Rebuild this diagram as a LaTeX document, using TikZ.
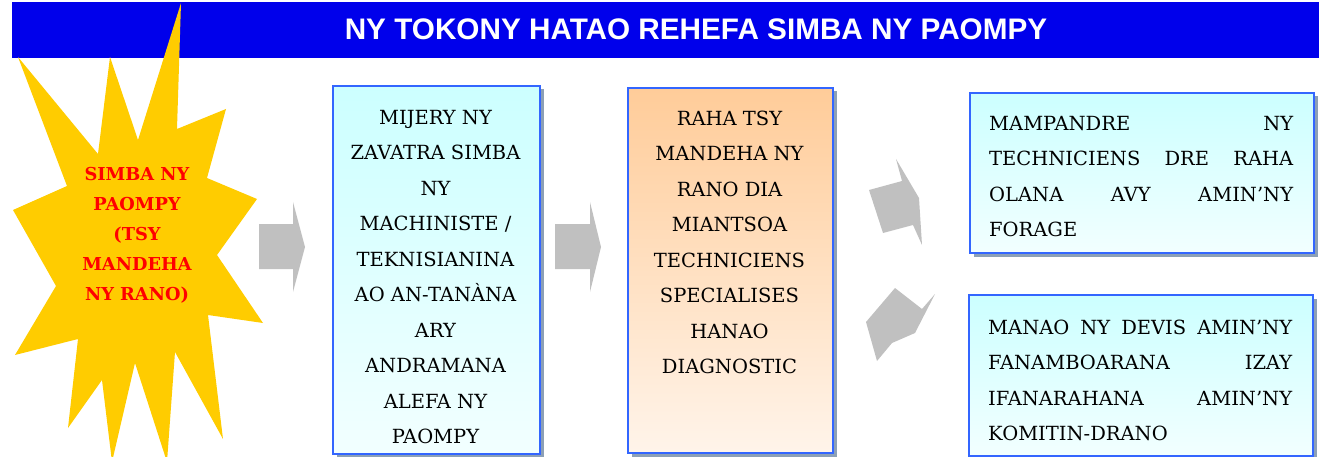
\documentclass[tikz,border=0pt]{standalone}
\usepackage{fontspec}
\setmainfont{DejaVu Serif}
\newfontfamily\titlefont{Liberation Sans}
\usepackage{tikz}
\usetikzlibrary{shadows}
\definecolor{bannerblue}{RGB}{0,0,235}
\definecolor{staryellow}{RGB}{255,204,0}
\definecolor{arrowgray}{RGB}{192,192,192}
\definecolor{boxblue}{RGB}{51,102,255}
\definecolor{boxshadow}{RGB}{140,160,182}
\definecolor{cyantop}{RGB}{204,255,255}
\definecolor{cyanbot}{RGB}{242,255,255}
\definecolor{orangetop}{RGB}{255,204,153}
\definecolor{orangebot}{RGB}{255,244,234}
\tikzset{
  titlebar/.style={fill=bannerblue,inner sep=0pt,minimum width=1307pt,minimum height=56pt},
  titletext/.style={text=white,inner sep=0pt,font=\titlefont\bfseries\fontsize{29.7}{30}\selectfont},
  startext/.style={text=red,align=center,inner sep=0pt,anchor=north,font=\fontsize{17.8}{30}\selectfont\bfseries},
  blockarrow/.style={fill=arrowgray},
  stepbox/.style={draw=boxblue,line width=2pt,anchor=north west,inner sep=0pt,
    drop shadow={shadow xshift=3.5pt,shadow yshift=-3.5pt,fill=boxshadow,opacity=1}},
  cyanbox/.style={stepbox,top color=cyantop,bottom color=cyanbot},
  orangebox/.style={stepbox,top color=orangetop,bottom color=orangebot},
  boxtext/.style={align=center,inner sep=0pt,anchor=north,font=\fontsize{19.5}{35.5}\selectfont},
  justtext/.style={align=left,inner sep=0pt,anchor=north west,font=\fontsize{19.5}{35.5}\selectfont},
}
\newcommand{\jline}[1]{\makebox[304pt]{#1}}

\begin{document}
\begin{tikzpicture}[x=1pt,y=-1pt]
\useasboundingbox (0,0) rectangle (1319,457);
\node[titlebar] (banner) at (665.5,30) {};
\node[titletext] (title) at (696,29.5) {NY TOKONY HATAO REHEFA SIMBA NY PAOMPY};

\fill[staryellow] (181,3) -- (177,129) -- (226,109) -- (207,178) -- (257,199) -- (217,255)
  -- (263,323) -- (208,315) -- (223,439) -- (175,352) -- (167,462) -- (135,363)
  -- (112,462) -- (102,380) -- (68,428) -- (78,339) -- (15,355) -- (56,286)
  -- (13,210) -- (67,186) -- (18,57) -- (98,154) -- (110,57) -- (138,140) -- cycle;
\node[startext] (panne) at (137,167) {SIMBA NY\\PAOMPY\\(TSY\\MANDEHA\\NY RANO)};

\fill[blockarrow] (259,224) -- (293,224) -- (293,202) -- (305,247) -- (293,292) -- (293,269) -- (259,269) -- cycle;
\fill[blockarrow] (555,224) -- (590,224) -- (590,202) -- (601,247) -- (590,292) -- (590,269) -- (555,269) -- cycle;
\fill[blockarrow] (869,190) -- (902,181) -- (896,159) -- (919,198) -- (922,245) -- (913,225) -- (883,233) -- cycle;
\fill[blockarrow] (866,322) -- (895,288) -- (922,309) -- (935,294) -- (915,333) -- (892,343) -- (877,361) -- cycle;

\node[cyanbox,minimum width=207pt,minimum height=368pt] (mijery) at (332,85) {};
\node[boxtext] (mijerytxt) at (435.5,109.8) {MIJERY NY\\ZAVATRA SIMBA\\NY\\MACHINISTE /\\TEKNISIANINA\\AO AN-TANÀNA\\ARY\\ANDRAMANA\\ALEFA NY\\PAOMPY};

\node[orangebox,minimum width=205pt,minimum height=365pt] (diagnostic) at (627,87) {};
\node[boxtext] (diagnostictxt) at (729.5,110.8) {RAHA TSY\\MANDEHA NY\\RANO DIA\\MIANTSOA\\TECHNICIENS\\SPECIALISES\\HANAO\\DIAGNOSTIC};

\node[cyanbox,minimum width=344pt,minimum height=160pt] (forage) at (969,92) {};
\node[justtext] (foragetxt) at (989,115.8) {\jline{MAMPANDRE\hfill NY}\\\jline{TECHNICIENS\hfill DRE\hfill RAHA}\\\jline{OLANA\hfill AVY\hfill AMIN'NY}\\FORAGE};

\node[cyanbox,minimum width=344pt,minimum height=161pt] (devis) at (968,294) {};
\node[justtext] (devistxt) at (988,319.8) {\jline{MANAO\hfill NY\hfill DEVIS\hfill AMIN'NY}\\\jline{FANAMBOARANA\hfill IZAY}\\\jline{IFANARAHANA\hfill AMIN'NY}\\KOMITIN-DRANO};
\end{tikzpicture}
\end{document}
